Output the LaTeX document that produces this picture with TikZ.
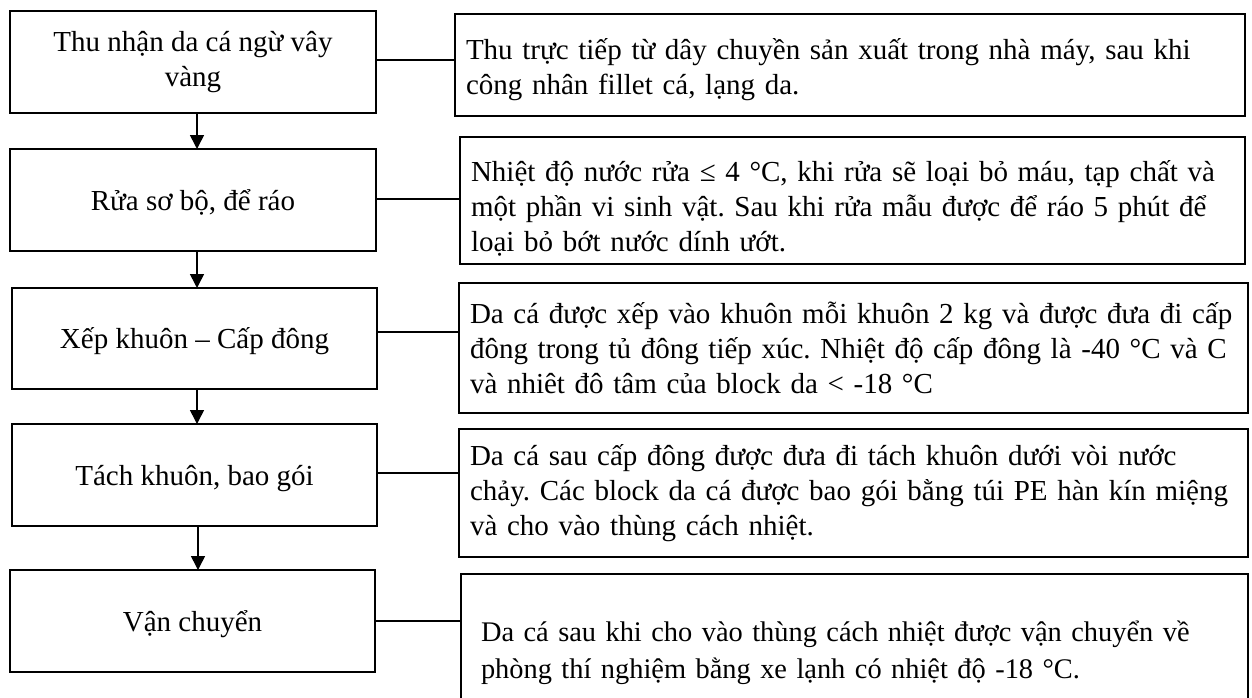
\documentclass[tikz,border=0pt]{standalone}
\usepackage{fontspec}
\setmainfont{Liberation Serif}
\usetikzlibrary{arrows.meta,calc}
\frenchspacing
\begin{document}
\begin{tikzpicture}[x=1pt,y=-1pt,
  stepbox/.style={draw, line width=2.2pt, inner sep=0pt, outer sep=0pt,
    align=center, font=\fontsize{29}{35}\selectfont},
  oneline/.style={text height=26pt, text depth=6pt},
  notebox/.style={draw, line width=2.2pt, inner xsep=11pt, inner ysep=0pt,
    outer sep=0pt, align=left, anchor=north west,
    font=\fontsize{29}{35}\selectfont},
  link/.style={line width=1.3pt},
  flow/.style={line width=1.6pt, -{Triangle[width=14pt,length=14pt]}}]

\useasboundingbox (0,0) rectangle (1252,698);
\fill[white] (0,0) rectangle (1252,698);

% process steps (left column)
\node[stepbox, minimum width=366pt, minimum height=102pt] (L1) at (193,62)
  {Thu nhận da cá ngừ vây\\vàng};
\node[stepbox, oneline, minimum width=366pt, minimum height=102pt] (L2) at (193,200)
  {Rửa sơ bộ, để ráo};
\node[stepbox, oneline, minimum width=365pt, minimum height=101pt] (L3) at (194.5,338.5)
  {Xếp khuôn – Cấp đông};
\node[stepbox, oneline, minimum width=365pt, minimum height=102pt] (L4) at (194.5,475)
  {Tách khuôn, bao gói};
\node[stepbox, oneline, minimum width=365pt, minimum height=102pt] (L5) at (192.5,621)
  {Vận chuyển};

% descriptions (right column)
\node[notebox, text width=768pt, minimum height=102pt] (R1) at (455,14)
  {\rule{0pt}{31pt}Thu trực tiếp từ dây chuyền sản xuất trong nhà máy, sau khi\\
   công nhân fillet cá, lạng da.};
\node[notebox, text width=763pt, minimum height=127pt] (R2) at (460,137)
  {\rule{0pt}{37pt}Nhiệt độ nước rửa ≤ 4 °C, khi rửa sẽ loại bỏ máu, tạp chất và\\
   một phần vi sinh vật. Sau khi rửa mẫu được để ráo 5 phút để\\
   loại bỏ bớt nước dính ướt.};
\node[notebox, text width=767pt, minimum height=130pt] (R3) at (459,283)
  {Da cá được xếp vào khuôn mỗi khuôn 2 kg và được đưa đi cấp\\
   đông trong tủ đông tiếp xúc. Nhiệt độ cấp đông là -40 °C và C\\
   và nhiêt đô tâm của block da < -18 °C};
\node[notebox, text width=767pt, minimum height=128pt] (R4) at (459,429)
  {Da cá sau cấp đông được đưa đi tách khuôn dưới vòi nước\\
   chảy. Các block da cá được bao gói bằng túi PE hàn kín miệng\\
   và cho vào thùng cách nhiệt.};
\node[notebox, text width=747pt, minimum height=148pt, inner xsep=20pt,
      font=\fontsize{28.4}{37}\selectfont] (R5) at (461,574)
  {\rule{0pt}{31pt}Da cá sau khi cho vào thùng cách nhiệt được vận chuyển về\\
   phòng thí nghiệm bằng xe lạnh có nhiệt độ -18 °C.};

% flow arrows
\coordinate (ax) at (197,0);
\draw[flow] (ax |- L1.south) -- (ax |- L2.north);
\draw[flow] (ax |- L2.south) -- (ax |- L3.north);
\draw[flow] (ax |- L3.south) -- (ax |- L4.north);
\draw[flow] ([xshift=1pt]ax |- L4.south) -- ([xshift=1pt]ax |- L5.north);

% step-to-description links
\draw[link] ([yshift=2pt]L1.east) -- ([yshift=2pt]L1.east -| R1.west);
\draw[link] ([yshift=1pt]L2.east) -- ([yshift=1pt]L2.east -| R2.west);
\draw[link] ([yshift=6.5pt]L3.east) -- ([yshift=6.5pt]L3.east -| R3.west);
\draw[link] ([yshift=2pt]L4.east) -- ([yshift=2pt]L4.east -| R4.west);
\draw[link] (L5.east) -- (L5.east -| R5.west);
\end{tikzpicture}
\end{document}
